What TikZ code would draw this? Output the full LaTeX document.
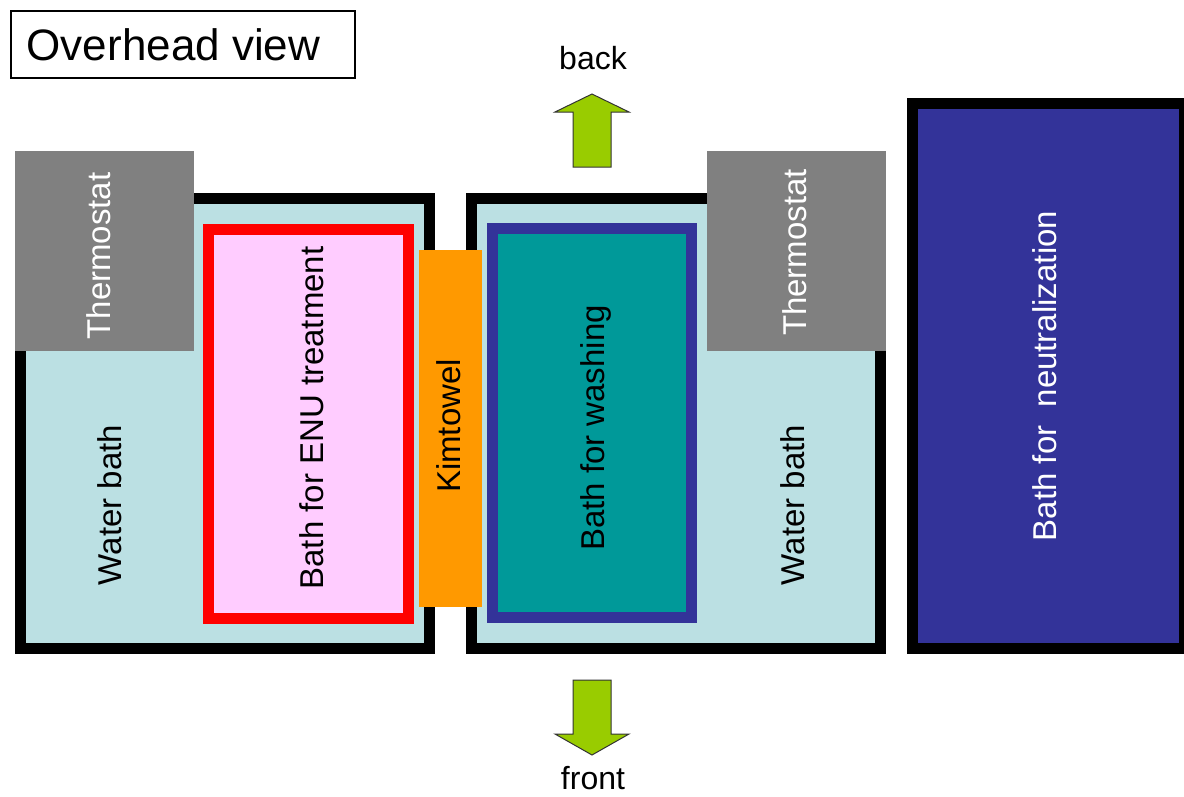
\documentclass[tikz,border=0pt]{standalone}
\usepackage{fontspec}
\setmainfont{Liberation Sans}
\definecolor{waterblue}{HTML}{BBE0E3}
\definecolor{thermogray}{HTML}{808080}
\definecolor{enupink}{HTML}{FFCCFF}
\definecolor{washteal}{HTML}{009999}
\definecolor{navyblue}{HTML}{333399}
\definecolor{towelorange}{HTML}{FF9900}
\definecolor{arrowgreen}{HTML}{99CC00}
\begin{document}
\begin{tikzpicture}[x=1pt,y=-1pt,
  bathwall/.style={draw=black, line width=11pt, fill=waterblue},
  thermobox/.style={fill=thermogray},
  vlabel/.style={font=\fontsize{33}{40}\selectfont, rotate=90, inner sep=0pt},
  blockarrow/.style={fill=arrowgreen, draw=black!80, line width=1pt, line join=miter},
  plainlabel/.style={font=\fontsize{32}{38}\selectfont, inner sep=0pt}]
\useasboundingbox (0,0) rectangle (1184,796);

% title box
\node[draw=black, line width=2pt, minimum width=344, minimum height=67, inner sep=0pt,
      font=\fontsize{44}{52}\selectfont] (title) at (183,44.5) {};
\node[inner sep=0pt, font=\fontsize{44}{52}\selectfont] (titletext) at (173.5,45) {Overhead view};

% direction arrows
\node[plainlabel] (back) at (593,58) {back};
\node[plainlabel] (front) at (593,778) {front};
\draw[blockarrow] (573,167) -- (573,112) -- (555,112) -- (592,94) -- (629,112)
  -- (611,112) -- (611,167) -- cycle;
\draw[blockarrow] (573,680) -- (611,680) -- (611,734) -- (629,734) -- (592,755)
  -- (555,734) -- (573,734) -- cycle;

% water baths
\draw[bathwall] (20.5,198.5) rectangle (429.5,648.5);
\draw[bathwall] (471.5,198.5) rectangle (880.5,648.5);

% thermostats
\fill[thermobox] (15,151) rectangle (194,351);
\fill[thermobox] (707,151) rectangle (886,351);

% inner baths
\draw[draw=red, line width=11pt, fill=enupink] (208.5,229.5) rectangle (408,618);
\draw[draw=navyblue, line width=11pt, fill=washteal] (492.5,228.5) rectangle (691.5,617.5);

% paper towel between the baths
\fill[towelorange] (419,250) rectangle (482,607);

% neutralization bath
\draw[draw=black, line width=11pt, fill=navyblue] (912.5,103.5) rectangle (1184.5,648.5);

% labels
\node[vlabel, text=white] (thermL) at (99,256) {Thermostat};
\node[vlabel, text=white] (thermR) at (794.5,252.5) {Thermostat};
\node[vlabel] (waterL) at (110,505) {Water bath};
\node[vlabel] (waterR) at (793,505) {Water bath};
\node[vlabel] (enu) at (312,418) {Bath for ENU treatment};
\node[vlabel] (kim) at (449,426) {Kimtowel};
\node[vlabel] (wash) at (596,428) {Bath for washing};
\node[vlabel, text=white] (neutral) at (1045,376) {Bath for\ \ neutralization};
\end{tikzpicture}
\end{document}
